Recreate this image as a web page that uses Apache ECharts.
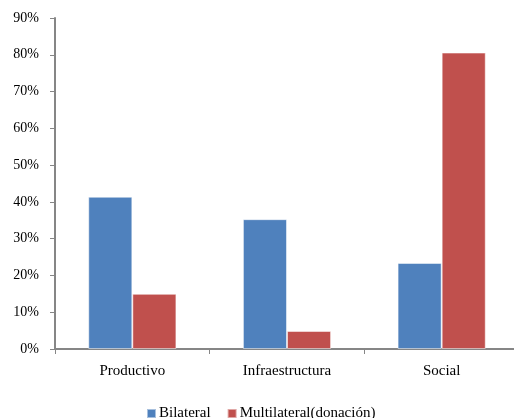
<!DOCTYPE html>
<html>
<head>
<meta charset="utf-8">
<script src="https://cdn.jsdelivr.net/npm/echarts@6/dist/echarts.min.js"></script>
<style>
  html, body { margin: 0; padding: 0; background: #ffffff; }
  #chart { width: 514px; height: 418px; }
</style>
</head>
<body>
<div id="chart"></div>
<script>
// Share of aid by sector (%)
const categories = ['Productivo', 'Infraestructura', 'Social'];
const bilateral = [41.4, 35.3, 23.4];
const multilateral = [15.0, 4.9, 80.6];
const seriesNames = ['Bilateral', 'Multilateral(donación)'];

const font = '"Liberation Serif", "Times New Roman", serif';
const axisGrey = '#868686';

const chart = echarts.init(document.getElementById('chart'), null, { renderer: 'canvas' });
chart.setOption({
  animation: false,
  backgroundColor: '#ffffff',
  // the plot runs slightly past the right edge of the canvas
  grid: { left: 55, width: 464, top: 18, bottom: 69, containLabel: false, outerBoundsMode: 'none' },
  legend: {
    data: seriesNames,
    left: 141,
    top: 401,
    itemWidth: 9,
    itemHeight: 9,
    itemGap: 16,
    icon: 'rect',
    textStyle: { fontFamily: font, fontSize: 15, color: '#000000', padding: [0, 0, 0, -2] }
  },
  xAxis: {
    type: 'category',
    data: categories,
    axisLine: { lineStyle: { color: axisGrey, width: 2 } },
    axisTick: { show: true, alignWithLabel: false, length: 5, lineStyle: { color: axisGrey, width: 1 } },
    axisLabel: { fontFamily: font, fontSize: 15, color: '#000000', margin: 15 },
    splitLine: { show: false }
  },
  yAxis: {
    type: 'value',
    min: 0,
    max: 90,
    interval: 10,
    axisLine: { show: true, lineStyle: { color: axisGrey, width: 2 } },
    axisTick: { show: true, length: 5, lineStyle: { color: axisGrey, width: 1 } },
    axisLabel: { fontFamily: font, fontSize: 14, color: '#000000', margin: 16, formatter: '{value}%' },
    splitLine: { show: false }
  },
  series: [
    {
      name: seriesNames[0],
      type: 'bar',
      data: bilateral,
      barGap: '0%',
      barCategoryGap: '43%',
      itemStyle: { color: '#4f81bd', borderColor: 'rgba(255,255,255,0.5)', borderWidth: 1 }
    },
    {
      name: seriesNames[1],
      type: 'bar',
      data: multilateral,
      barGap: '0%',
      barCategoryGap: '43%',
      itemStyle: { color: '#c0504d', borderColor: 'rgba(255,255,255,0.5)', borderWidth: 1 }
    }
  ]
});
</script>
</body>
</html>
